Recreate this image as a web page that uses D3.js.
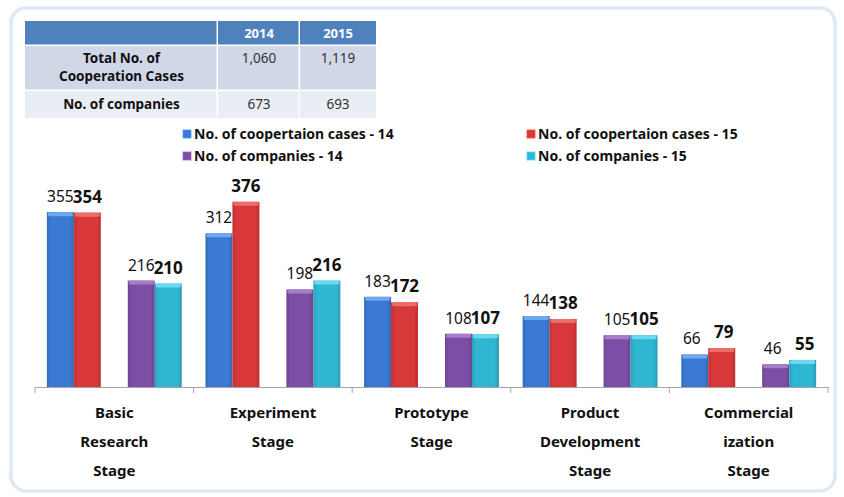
<!DOCTYPE html>
<html>
<head>
<meta charset="utf-8">
<script src="https://cdn.jsdelivr.net/npm/d3@7"></script>
<style>
  body { margin: 0; background: #fff; }
  svg { display: block; font-family: "Noto Sans", sans-serif; }
</style>
</head>
<body>
<div id="chart"></div>
<script>
// stage categories (label lines) and the four series
const stageLabels = [
  ["Basic", "Research", "Stage"],
  ["Experiment", "Stage"],
  ["Prototype", "Stage"],
  ["Product", "Development", "Stage"],
  ["Commercial", "ization", "Stage"]
];
const cases14 = [355, 312, 183, 144, 66];
const cases15 = [354, 376, 172, 138, 79];
const companies14 = [216, 198, 108, 105, 46];
const companies15 = [210, 216, 107, 105, 55];

// summary table
const tableYears = ["2014", "2015"];
const tableRowNames = [["Total No. of", "Cooperation Cases"], ["No. of companies"]];
const totalCases = ["1,060", "1,119"];
const totalCompanies = ["673", "693"];

const seriesNames = [
  "No. of coopertaion cases - 14",
  "No. of coopertaion cases - 15",
  "No. of companies - 14",
  "No. of companies - 15"
];

const width = 844, height = 497;
const svg = d3.select("#chart").append("svg")
  .attr("width", width)
  .attr("height", height);

// outer rounded frame
svg.append("rect")
  .attr("x", 11).attr("y", 8)
  .attr("width", 824).attr("height", 483)
  .attr("rx", 15)
  .attr("fill", "#fff")
  .attr("stroke", "#dfe9f3")
  .attr("stroke-width", 3.5);

// ---- table ----
const colX = [25, 218, 300, 376];
const rowY = [21, 46, 91, 118];
const table = svg.append("g");
const rowFill = ["#4f81bd", "#d0d8e8", "#e9edf4"];
for (let r = 0; r < 3; r++) {
  for (let c = 0; c < 3; c++) {
    table.append("rect")
      .attr("x", colX[c]).attr("y", rowY[r])
      .attr("width", colX[c + 1] - colX[c] - (c < 2 ? 1.5 : 0))
      .attr("height", rowY[r + 1] - rowY[r] - (r < 2 ? 1.5 : 0))
      .attr("fill", rowFill[r]);
  }
}
tableYears.forEach((yr, i) => {
  table.append("text")
    .attr("x", (colX[i + 1] + colX[i + 2]) / 2)
    .attr("y", 38)
    .attr("text-anchor", "middle")
    .attr("fill", "#fff")
    .style("font-size", "13px")
    .style("font-weight", "bold")
    .text(yr);
});
const rowTextY = [[63, 81], [109]];
tableRowNames.forEach((lines, r) => {
  lines.forEach((ln, k) => {
    table.append("text")
      .attr("x", (colX[0] + colX[1]) / 2)
      .attr("y", rowTextY[r][k])
      .attr("text-anchor", "middle")
      .attr("fill", "#111")
      .style("font-size", "13.5px")
      .style("font-weight", "bold")
      .text(ln);
  });
});
[totalCases, totalCompanies].forEach((vals, r) => {
  vals.forEach((v, i) => {
    table.append("text")
      .attr("x", (colX[i + 1] + colX[i + 2]) / 2)
      .attr("y", rowTextY[r][0])
      .attr("text-anchor", "middle")
      .attr("fill", "#333")
      .style("font-size", "13.5px")
      .text(v);
  });
});

// ---- colours & gradients ----
const colors = ["#3a7ad4", "#d8383a", "#7d4ea6", "#2fb6d2"];
const caps = ["#6fa8ee", "#ee6d6a", "#a47fc8", "#6ad8ee"];
const defs = svg.append("defs");
colors.forEach((c, i) => {
  const g = defs.append("linearGradient")
    .attr("id", "grad" + i)
    .attr("x1", "0").attr("x2", "1").attr("y1", "0").attr("y2", "0");
  const base = d3.color(c);
  g.append("stop").attr("offset", "0%").attr("stop-color", base.darker(0.35));
  g.append("stop").attr("offset", "15%").attr("stop-color", base);
  g.append("stop").attr("offset", "85%").attr("stop-color", base);
  g.append("stop").attr("offset", "100%").attr("stop-color", base.darker(0.45));
});

// ---- legend ----
const legend = svg.append("g");
const legX = [183, 527], legY = [134, 156];
seriesNames.forEach((name, i) => {
  const lx = legX[i % 2], ly = legY[Math.floor(i / 2)];
  legend.append("rect")
    .attr("x", lx).attr("y", ly - 4)
    .attr("width", 8).attr("height", 8)
    .attr("fill", colors[i])
    .attr("stroke", d3.color(colors[i]).brighter(0.6))
    .attr("stroke-width", 0.8);
  legend.append("text")
    .attr("x", lx + 11).attr("y", ly + 5)
    .attr("fill", "#111")
    .style("font-size", "14px")
    .style("font-weight", "bold")
    .text(name);
});

// ---- scales ----
const x = d3.scaleBand()
  .domain(d3.range(stageLabels.length))
  .range([35, 828])
  .padding(0);

const slots = ["c14", "c15", "gap", "m14", "m15"];
const xs = d3.scaleBand()
  .domain(slots)
  .range([0, x.bandwidth()])
  .paddingInner(0)
  .paddingOuter(0.44);

const y = d3.scaleLinear()
  .domain([0, 400])
  .range([387, 190]);

// axis
const axis = svg.append("g")
  .attr("transform", `translate(0,${y(0)})`)
  .call(d3.axisBottom(x).tickSize(0).tickFormat(""));
axis.select(".domain").attr("stroke", "#a6a6a6");
const tickPos = d3.range(stageLabels.length + 1).map(i => i < stageLabels.length ? x(i) : x(i - 1) + x.bandwidth());
svg.append("g").selectAll("line")
  .data(tickPos)
  .enter().append("line")
    .attr("x1", d => d).attr("x2", d => d)
    .attr("y1", y(0)).attr("y2", y(0) + 6)
    .attr("stroke", "#a6a6a6");

// bars
const barData = [];
stageLabels.forEach((lab, i) => {
  [cases14[i], cases15[i], companies14[i], companies15[i]].forEach((v, s) => {
    barData.push({ stage: i, series: s, slot: slots[s < 2 ? s : s + 1], value: v });
  });
});

const bars = svg.append("g").selectAll("g")
  .data(barData)
  .enter().append("g");

bars.append("rect")
  .attr("x", d => x(d.stage) + xs(d.slot))
  .attr("y", d => y(d.value))
  .attr("width", xs.bandwidth())
  .attr("height", d => y(0) - y(d.value))
  .attr("fill", d => `url(#grad${d.series})`);

bars.append("rect")
  .attr("x", d => x(d.stage) + xs(d.slot) + 1)
  .attr("y", d => y(d.value))
  .attr("width", xs.bandwidth() - 2)
  .attr("height", 4)
  .attr("rx", 1.5)
  .attr("fill", d => caps[d.series]);

// value labels: 2014 normal, 2015 bold
bars.append("text")
  .attr("x", d => x(d.stage) + xs(d.slot) + xs.bandwidth() / 2 + (d.value < 100 ? (d.series % 2 ? 2 : -3) : 0))
  .attr("y", d => y(d.value) - 10)
  .attr("text-anchor", "middle")
  .attr("fill", "#111")
  .style("font-size", d => d.series % 2 ? "17px" : "15.5px")
  .style("font-weight", d => d.series % 2 ? "bold" : "normal")
  .text(d => d.value);

// category labels
const catG = svg.append("g");
stageLabels.forEach((lines, i) => {
  lines.forEach((ln, k) => {
    catG.append("text")
      .attr("x", x(i) + x.bandwidth() / 2)
      .attr("y", 418 + k * 29)
      .attr("text-anchor", "middle")
      .attr("fill", "#111")
      .style("font-size", "15px")
      .style("font-weight", "bold")
      .text(ln);
  });
});
</script>
</body>
</html>
